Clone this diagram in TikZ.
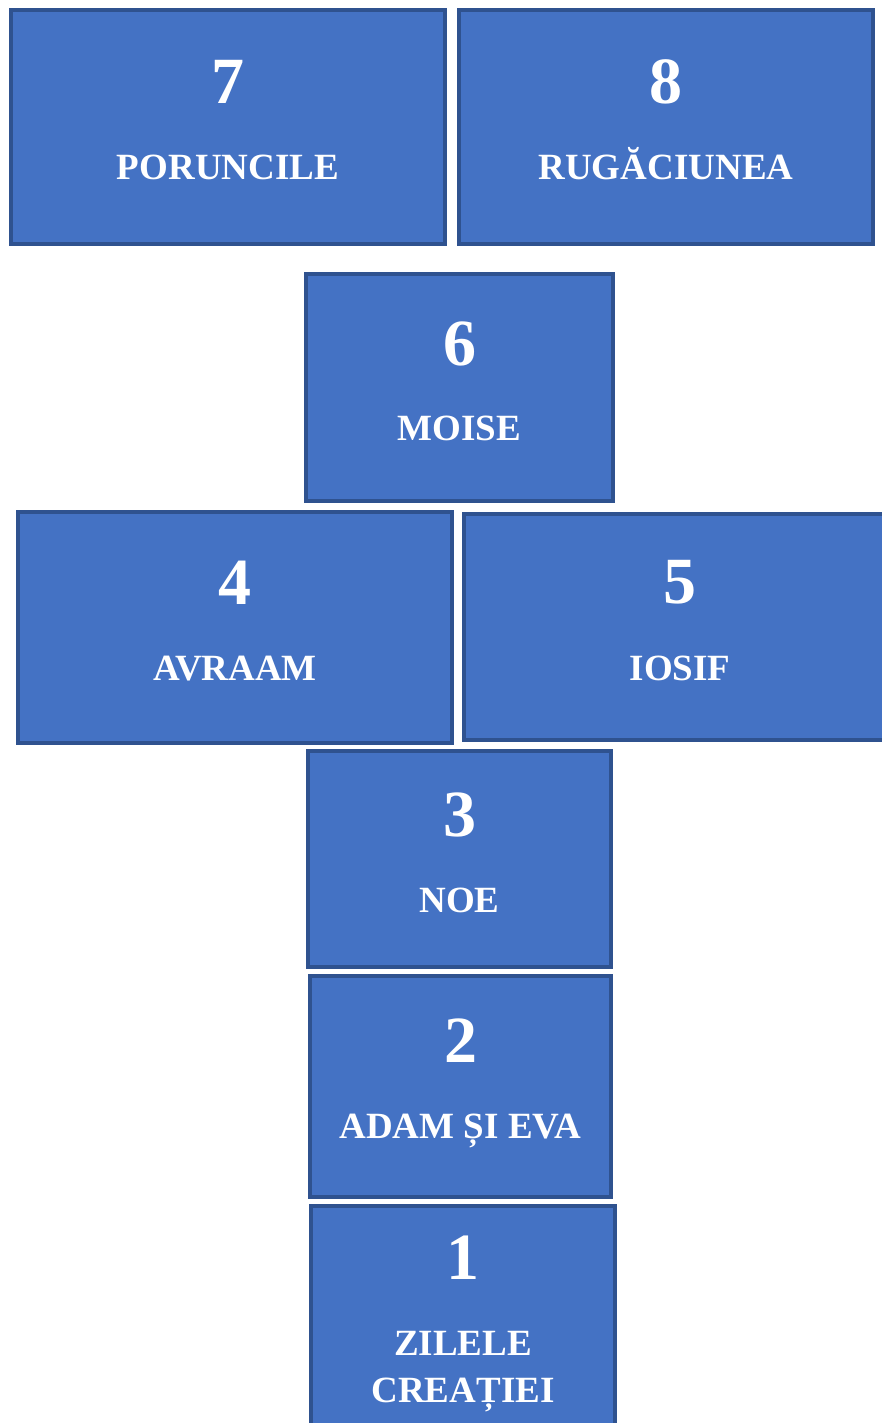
\documentclass[tikz,border=0pt]{standalone}
\usepackage{fontspec}
\setmainfont{Liberation Serif}
\definecolor{boxfill}{HTML}{4472C4}
\definecolor{boxline}{HTML}{2F528F}
\begin{document}
\begin{tikzpicture}[x=1pt,y=-1pt,
  tile/.style={draw=boxline,fill=boxfill,line width=4pt,inner sep=0pt,outer sep=0pt},
  numtxt/.style={anchor=base,text=white,font=\fontsize{66}{66}\selectfont\bfseries,inner sep=0pt},
  labtxt/.style={anchor=base,text=white,font=\fontsize{37}{47}\selectfont\bfseries,inner sep=0pt,align=center}]
\useasboundingbox (0,0) rectangle (882,1423);
\clip (0,0) rectangle (882,1423);
% boxes
\node[tile,minimum width=434,minimum height=234] (b7) at (228,127) {};
\node[tile,minimum width=414,minimum height=234] (b8) at (666,127) {};
\node[tile,minimum width=307,minimum height=227] (b6) at (459.5,387.5) {};
\node[tile,minimum width=434,minimum height=231] (b4) at (235,627.5) {};
\node[tile,minimum width=432,minimum height=226] (b5) at (680,627) {};
\node[tile,minimum width=303,minimum height=216] (b3) at (459.5,859) {};
\node[tile,minimum width=301,minimum height=221] (b2) at (460.5,1086.5) {};
\node[tile,minimum width=304,minimum height=232] (b1) at (463,1322) {};
% texts
\node[numtxt] (n7) at (228,104) {7};
\node[labtxt] (l7) at (228,180) {PORUNCILE};
\node[numtxt] (n8) at (666,104) {8};
\node[labtxt] (l8) at (666,180) {RUGĂCIUNEA};
\node[numtxt] (n6) at (459.5,365) {6};
\node[labtxt] (l6) at (459.5,440) {MOISE};
\node[numtxt] (n4) at (235,604) {4};
\node[labtxt] (l4) at (235,680) {AVRAAM};
\node[numtxt] (n5) at (680,603) {5};
\node[labtxt] (l5) at (680,680) {IOSIF};
\node[numtxt] (n3) at (459.5,836) {3};
\node[labtxt] (l3) at (459.5,912) {NOE};
\node[numtxt] (n2) at (460.5,1062) {2};
\node[labtxt] (l2) at (460.5,1138) {ADAM ȘI EVA};
\node[numtxt] (n1) at (463,1279) {1};
\node[labtxt] (l1a) at (463,1355) {ZILELE};
\node[labtxt] (l1b) at (463,1402) {CREAȚIEI};
\end{tikzpicture}
\end{document}
